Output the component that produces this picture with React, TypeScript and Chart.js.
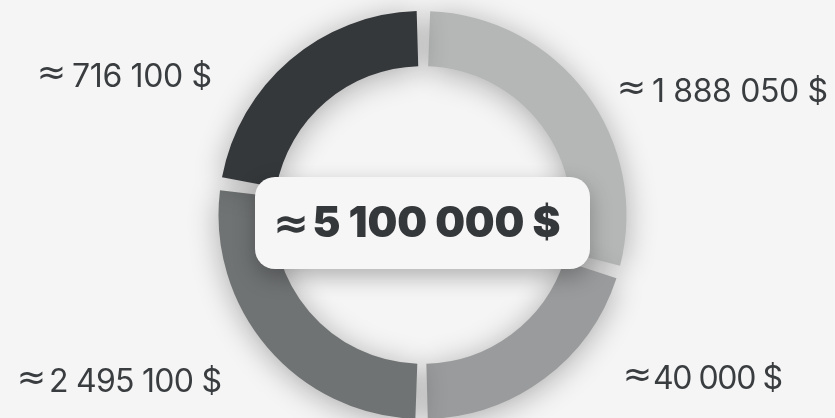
import React, { useEffect, useRef } from "react";
import { Chart, registerables } from "chart.js";

Chart.register(...registerables);

// ---- data ----
const categories = ["Segment A", "Segment B", "Segment C", "Segment D"];
const amounts = [1888050, 40000, 2495100, 716100];
// share of the ring each segment occupies in the picture (percent)
const arcShares = [29.6, 20.4, 27.5, 22.5];
const segmentColors = ["#b5b7b6", "#9a9b9c", "#707374", "#35383b"];
const totalAmount = 5100000;

const fmt = (n: number) => n.toString().replace(/\B(?=(\d{3})+(?!\d))/g, " ");
const labelNumbers = amounts.map((a) => fmt(a) + " $");
const totalNumber = fmt(totalAmount) + " $";
const APPROX = "≈";

// label layout: [approx glyph x, number x, number right end x, baseline y]
const labelLayout: [number, number, number, number][] = [
  [617, 652, 828, 102],
  [623, 653, 783, 389],
  [17, 49, 222, 392],
  [37, 72, 212, 87],
];

const BG = "#f5f5f5";

const ringShadow = {
  id: "ringShadow",
  beforeDatasetsDraw(chart: any) {
    const c = chart.ctx;
    c.save();
    c.shadowColor = "rgba(0,0,0,0.30)";
    c.shadowBlur = 30;
    c.shadowOffsetX = 0;
    c.shadowOffsetY = 4;
  },
  afterDatasetsDraw(chart: any) {
    chart.ctx.restore();
  },
};

function fitText(c: CanvasRenderingContext2D, text: string, x: number, endX: number, y: number) {
  (c as any).letterSpacing = "0px";
  const w = c.measureText(text).width;
  const n = Array.from(text).length;
  const ls = (endX - x - w) / Math.max(n - 1, 1);
  (c as any).letterSpacing = ls.toFixed(2) + "px";
  c.fillText(text, x, y);
  (c as any).letterSpacing = "0px";
}

// draws the ≈ glyph so that its ink fits a given box
function drawApprox(c: CanvasRenderingContext2D, font: string, left: number, width: number, midY: number) {
  c.font = font;
  const m = c.measureText(APPROX);
  const inkW = m.actualBoundingBoxLeft + m.actualBoundingBoxRight;
  const inkMid = (m.actualBoundingBoxAscent - m.actualBoundingBoxDescent) / 2;
  const s = width / inkW;
  c.save();
  c.translate(left, midY);
  c.scale(s, s);
  c.fillText(APPROX, m.actualBoundingBoxLeft, inkMid);
  c.restore();
}

const overlay = {
  id: "overlay",
  afterDraw(chart: any) {
    const c: CanvasRenderingContext2D = chart.ctx;
    const meta = chart.getDatasetMeta(0);
    const arc = meta.data[0];
    const cx = arc.x;
    const cy = arc.y;

    // center box
    c.save();
    c.shadowColor = "rgba(0,0,0,0.28)";
    c.shadowBlur = 22;
    c.shadowOffsetY = 8;
    c.fillStyle = "#f6f6f6";
    const bw = 335, bh = 92;
    c.beginPath();
    (c as any).roundRect(cx - bw / 2, cy - 38, bw, bh, 20);
    c.fill();
    c.restore();

    c.save();
    c.fillStyle = "#35383b";
    c.textAlign = "left";
    c.textBaseline = "alphabetic";
    drawApprox(c, "bold 40px 'DejaVu Sans'", cx - 145.5, 28, cy + 10);
    c.font = "900 42px Inter";
    fitText(c, totalNumber, cx - 110, cx + 138, cy + 22);
    c.restore();

    // side labels
    c.save();
    c.fillStyle = "#3a3d40";
    c.textAlign = "left";
    c.textBaseline = "alphabetic";
    labelNumbers.forEach((t, i) => {
      const [ax, nx, ex, y] = labelLayout[i];
      drawApprox(c, "32px 'DejaVu Sans'", ax + 3, 23, y - 14);
      c.font = "400 32px Inter";
      fitText(c, t, nx, ex, y);
    });
    c.restore();
  },
};

export default function App() {
  const ref = useRef<HTMLCanvasElement | null>(null);
  useEffect(() => {
    document.body.style.margin = "0";
    document.body.style.background = BG;
    const chart = new Chart(ref.current as HTMLCanvasElement, {
      type: "doughnut",
      data: {
        labels: categories,
        datasets: [
          {
            data: arcShares,
            backgroundColor: segmentColors,
            borderWidth: 0,
            spacing: 14,
            radius: 197,
          } as any,
        ],
      },
      options: {
        animation: false,
        responsive: true,
        maintainAspectRatio: false,
        cutout: "72%",
        events: [],
        layout: { padding: { left: 10, right: 0, top: 12, bottom: 0 } },
        plugins: {
          legend: { display: false },
          tooltip: { enabled: false },
        },
      },
      plugins: [ringShadow, overlay],
    });
    return () => chart.destroy();
  }, []);
  return (
    <div style={{ position: "absolute", left: 0, top: 0, width: 835, height: 418, background: BG }}>
      <canvas ref={ref} />
    </div>
  );
}
